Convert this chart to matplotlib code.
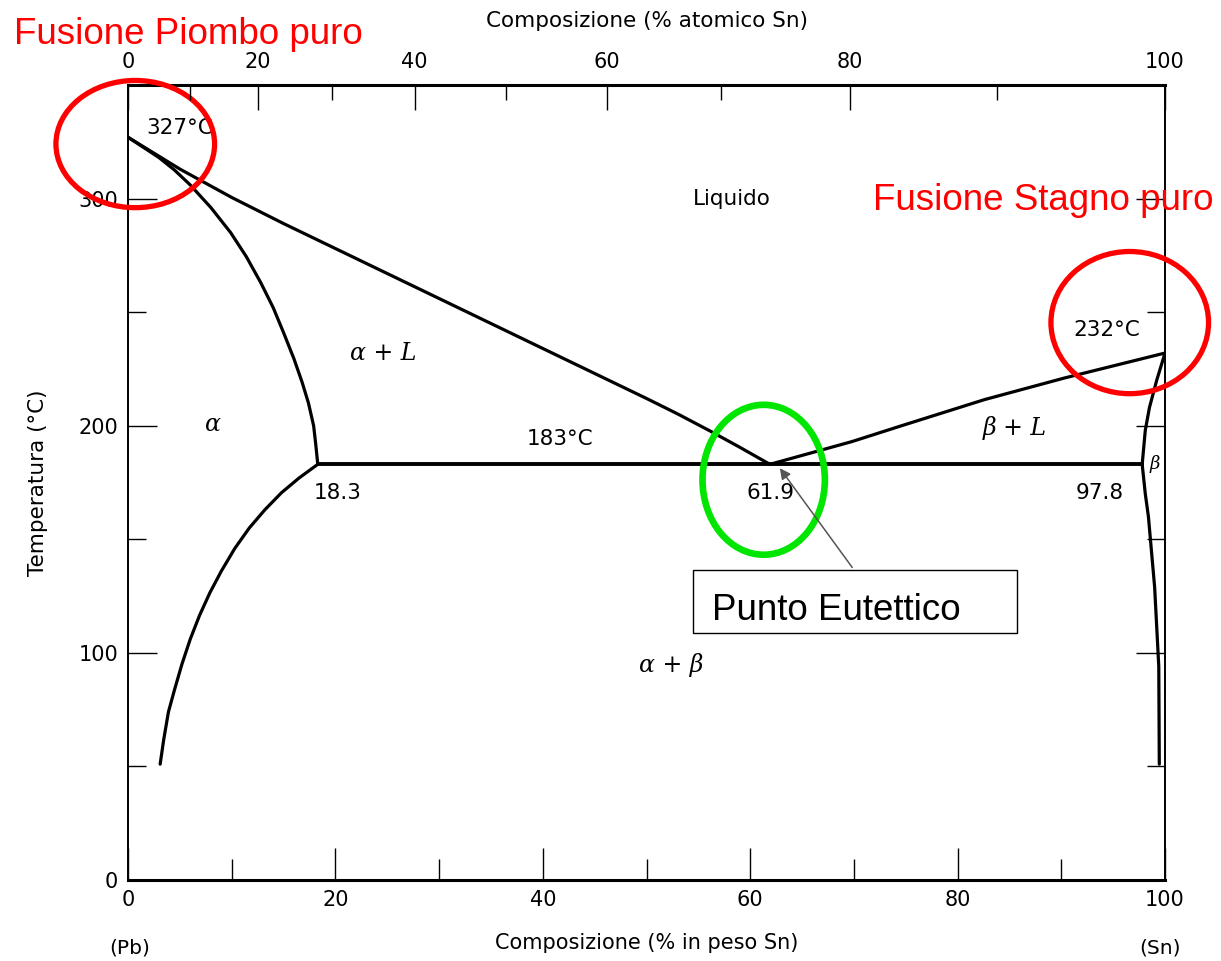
import numpy as np
import matplotlib
matplotlib.use('Agg')
import matplotlib.pyplot as plt
from matplotlib.patches import Ellipse, Rectangle

liquidus_sx_x = [0, 5, 10, 15, 20, 25, 30, 35, 40, 45, 50, 53, 56, 59, 61.9]
liquidus_sx_t = [327, 313, 300.5, 289, 278, 267, 256, 245, 234, 223, 212, 205.2, 198, 190.5, 183]

solidus_alfa_x = [0, 1.5, 3, 4.5, 6, 8, 9.9, 11.4, 12.8, 14, 15, 16, 16.8, 17.4, 17.9, 18.1, 18.3]
solidus_alfa_t = [327, 322.5, 318, 312.5, 306, 296, 285, 274.5, 263, 252, 241, 229.5, 219, 210, 200, 192, 183]

solvus_alfa_x = [18.3, 16.5, 14.8, 13.2, 11.7, 10.3, 9.0, 7.9, 6.9, 6.0, 5.2, 4.5, 3.9, 3.45, 3.1]
solvus_alfa_t = [183, 177, 170.5, 163, 155, 146, 136, 126.5, 116.5, 106, 95, 84, 74, 62, 51]

liquidus_dx_x = [61.9, 69.8, 74.6, 82.6, 90.3, 100]
liquidus_dx_t = [183, 193, 200, 211.5, 221, 232]

solidus_beta_x = [97.8, 98.1, 98.5, 99.2, 100]
solidus_beta_t = [183, 198, 208, 220, 232]

solvus_beta_x = [97.8, 98.1, 98.4, 99.0, 99.4, 99.45]
solvus_beta_t = [183, 170, 160, 129, 94, 51]

eutettico_x = [18.3, 97.8]
eutettico_t = [183, 183]

# tick
peso_major = [0, 20, 40, 60, 80, 100]
peso_minor = [10, 30, 50, 70, 90]
temp_major = [0, 100, 200, 300]
temp_minor = [50, 150, 250, 350]
atom_major = [0, 20, 40, 60, 80, 100]
atom_minor = [10, 30, 50, 70, 90]

M_SN = 118.71
M_PB = 207.2


def atomico_a_peso(a):
    a = np.asarray(a, dtype=float)
    return 100 * a * M_SN / (a * M_SN + (100 - a) * M_PB)


fig = plt.figure(figsize=(12.21, 9.61), dpi=100)
ax = fig.add_axes([128 / 1221, 81 / 961, (1165 - 128) / 1221, (880 - 85) / 961])
ax.set_xlim(0, 100)
ax.set_ylim(0, 350)

lw = 2.3
for xs, ts in [(liquidus_sx_x, liquidus_sx_t), (solidus_alfa_x, solidus_alfa_t),
               (solvus_alfa_x, solvus_alfa_t), (liquidus_dx_x, liquidus_dx_t),
               (solidus_beta_x, solidus_beta_t), (solvus_beta_x, solvus_beta_t)]:
    ax.plot(xs, ts, color='black', lw=lw, solid_capstyle='round', solid_joinstyle='round')
ax.plot(eutettico_x, eutettico_t, color='black', lw=2.8)

# assi
ax.set_xticks(peso_major)
ax.set_xticks(peso_minor, minor=True)
ax.set_yticks(temp_major)
ax.set_yticks(temp_minor, minor=True)
ax.tick_params(which='major', direction='in', length=21, width=1.0, labelsize=15,
               top=False, right=True, pad=7)
ax.tick_params(which='minor', direction='in', length=13, width=1.0, top=False, right=True)
ax.tick_params(axis='x', which='major', length=23)
ax.tick_params(axis='x', which='minor', length=15)
for s in ['left', 'right']:
    ax.spines[s].set_linewidth(1.4)
for s in ['top', 'bottom']:
    ax.spines[s].set_linewidth(2.2)
ax.set_xlabel('Composizione (% in peso Sn)', fontsize=15, labelpad=17)
ax.set_ylabel('Temperatura (°C)', fontsize=15.5, labelpad=22)

ax_top = ax.twiny()
ax_top.set_xlim(0, 100)
ax_top.set_xticks(atomico_a_peso(atom_major))
ax_top.set_xticklabels([str(v) for v in atom_major])
ax_top.set_xticks(atomico_a_peso(atom_minor), minor=True)
ax_top.tick_params(which='major', direction='in', length=18, width=1.0, labelsize=15, pad=9)
ax_top.tick_params(which='minor', direction='in', length=11, width=1.0)
ax_top.set_xlabel('Composizione (% atomico Sn)', fontsize=15.5, labelpad=18)
for s in ax_top.spines.values():
    s.set_visible(False)

fig.text(130 / 1221, 1 - 948 / 961, '(Pb)', fontsize=14.5, ha='center', va='center')
fig.text(1160 / 1221, 1 - 948 / 961, '(Sn)', fontsize=14.5, ha='center', va='center')

# etichette del diagramma
serif_it = dict(family='DejaVu Serif', style='italic', fontsize=17, ha='center', va='center')
lab = dict(fontsize=15.5, ha='center', va='center')
ax.text(5.0, 331, '327°C', **lab)
ax.text(58.2, 300, 'Liquido', **lab)
ax.text(24.6, 232, 'α + L', **serif_it)
ax.text(8.2, 200.5, 'α', **serif_it)
ax.text(41.7, 194, '183°C', **lab)
ax.text(20.2, 170.5, '18.3', **lab)
ax.text(62.0, 170.5, '61.9', **lab)
ax.text(93.7, 170.5, '97.8', **lab)
ax.text(85.5, 199, 'β + L', **serif_it)
ax.text(99.0, 183, 'β', family='DejaVu Serif', style='italic', fontsize=13, ha='center', va='center')
ax.text(52.4, 94.7, 'α + β', **serif_it)
ax.text(94.4, 242, '232°C', **lab)

# evidenziazioni
ax.add_patch(Ellipse((0.7, 324), 15.3, 56, fill=False, ec='#ff0000', lw=3.8, clip_on=False, zorder=5))
ax.add_patch(Ellipse((96.6, 245.4), 15.2, 62.6, fill=False, ec='#ff0000', lw=3.8, clip_on=False, zorder=5))
ax.add_patch(Ellipse((61.3, 176.2), 11.8, 66, fill=False, ec='#00e600', lw=4.8, clip_on=False, zorder=5))

ax.add_patch(Rectangle((54.5, 108.8), 31.2, 27.8, fill=True, fc='white', ec='black', lw=1.0, zorder=6))
ax.text(56.3, 118.5, 'Punto Eutettico', family='Liberation Sans', fontsize=26.5,
        ha='left', va='center', zorder=7)
ax.annotate('', xy=(62.7, 182.3), xytext=(70.0, 136.6),
            arrowprops=dict(arrowstyle='-|>', color='#555555', lw=1.1, mutation_scale=16),
            zorder=6)

fig.text(14 / 1221, 1 - 35 / 961, 'Fusione Piombo puro', family='Liberation Sans',
         fontsize=26.5, color='#ff0000', ha='left', va='center')
fig.text(873 / 1221, 1 - 200 / 961, 'Fusione Stagno puro', family='Liberation Sans',
         fontsize=26.5, color='#ff0000', ha='left', va='center')

fig.savefig('out.png', dpi=100)
